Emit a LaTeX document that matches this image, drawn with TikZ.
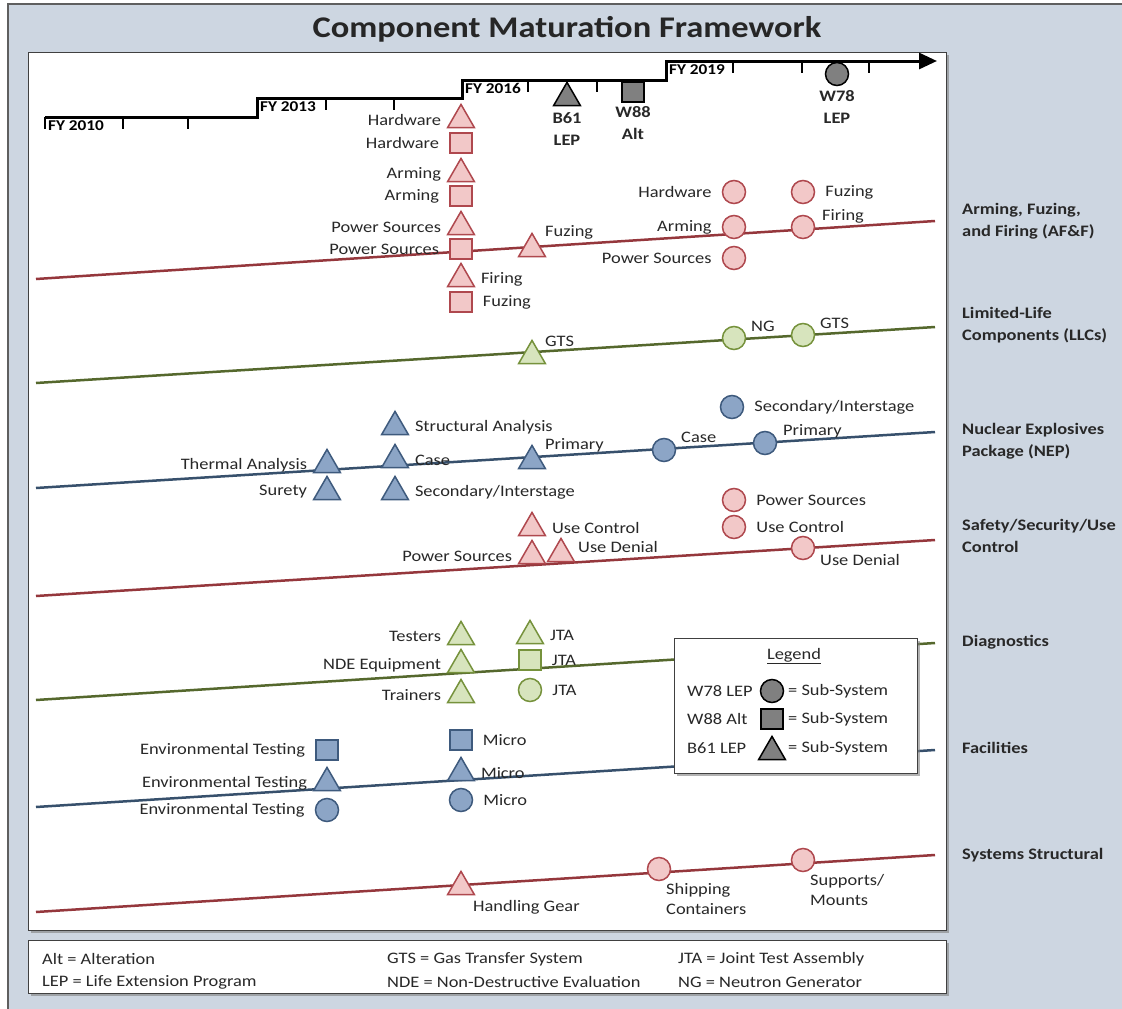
\documentclass[tikz,border=0pt]{standalone}
\usepackage{fontspec}
\setmainfont{Carlito}[FakeStretch=1.15]
\usetikzlibrary{arrows.meta,positioning,shapes.geometric,shadows}
\definecolor{bgblue}{RGB}{205,214,225}
\definecolor{framegray}{RGB}{95,95,95}
\definecolor{txt}{RGB}{40,40,40}
\definecolor{redln}{RGB}{149,55,60}
\definecolor{redbd}{RGB}{175,72,78}
\definecolor{redfill}{RGB}{242,200,200}
\definecolor{grnln}{RGB}{85,104,45}
\definecolor{grnbd}{RGB}{118,146,60}
\definecolor{grnfill}{RGB}{215,228,189}
\definecolor{bluln}{RGB}{55,80,108}
\definecolor{blubd}{RGB}{62,90,125}
\definecolor{blufill}{RGB}{140,165,198}
\definecolor{grayfill}{RGB}{128,128,128}
\newcommand{\lblfont}{\fontsize{16}{20}\selectfont}
\newcommand{\hdfont}{\bfseries\fontsize{16}{22}\selectfont}
\tikzset{
  tri/.style={regular polygon, regular polygon sides=3, minimum size=31pt, inner sep=0pt, line width=1.5pt, yshift=-3.9pt},
  sq/.style={rectangle, minimum width=22pt, minimum height=20pt, inner sep=0pt, line width=1.5pt},
  circ/.style={circle, minimum size=23pt, inner sep=0pt, line width=1.5pt},
  pinkm/.style={draw=redbd, fill=redfill},
  greenm/.style={draw=grnbd, fill=grnfill},
  bluem/.style={draw=blubd, fill=blufill},
  graym/.style={draw=black, fill=grayfill},
  lane/.style={line width=2.5pt},
  lbl/.style={font=\lblfont, text=txt, inner sep=0pt},
  hd/.style={font=\hdfont, text=txt, align=left, anchor=west, inner sep=0pt},
  yr/.style={font=\bfseries\fontsize{15}{18}\selectfont, anchor=north west, inner sep=1pt},
  wlbl/.style={font=\bfseries\fontsize{16}{22}\selectfont, text=txt, align=center, inner sep=0pt},
  every label/.style={font=\lblfont, text=txt, inner sep=2pt},
  box/.style={draw=black!75, line width=1pt, fill=white, drop shadow={shadow xshift=2.5pt, shadow yshift=-2.5pt, opacity=.6}},
}
\begin{document}
\begin{tikzpicture}[x=1pt, y=-1pt, label distance=8pt]
\clip (0,0) rectangle (1122,1009);
\fill[white] (0,0) rectangle (1122,1009);
\draw[line width=1.5pt, draw=framegray, fill=bgblue] (8,4) rectangle (1140,1030);

\node[font=\bfseries\fontsize{30}{34}\selectfont, text=black!85] (title) at (567,29) {Component Maturation Framework};

\draw[box] (28,52) rectangle (946,930);
\draw[box] (28,940) rectangle (946,993);

% timeline
\coordinate (t10) at (45,117);
\coordinate (t13) at (257,117);
\coordinate (t13b) at (257,98);
\coordinate (t16) at (462,98);
\coordinate (t16b) at (462,80);
\coordinate (t19) at (666,80);
\coordinate (t19b) at (666,61);
\coordinate (tend) at (937,61);
\draw[line width=3pt, -{Triangle[length=18pt,width=16pt]}] (t10) -- (t13) -- (t13b) -- (t16) -- (t16b) -- (t19) -- (t19b) -- (tend);
\foreach \x/\y in {45/117, 123/117, 188/117, 326/98, 394/98, 528/80, 597/80, 733/61, 802/61, 869/61}
  \draw[line width=2.5pt] (\x,\y) -- ++(0,12);
\node[yr] (fy10) at (47,119) {FY 2010};
\node[yr] (fy13) at (259,100) {FY 2013};
\node[yr] (fy16) at (464,82) {FY 2016};
\node[yr] (fy19) at (668,63) {FY 2019};

% weapons
\node[tri, graym] (wB61) at (567,94) {};
\node[wlbl, below=6pt of wB61] (wB61l) {B61\\LEP};
\node[sq, graym] (wW88) at (633,92) {};
\node[wlbl, below=4pt of wW88] (wW88l) {W88\\Alt};
\node[circ, graym] (wW78) at (837,74) {};
\node[wlbl, below=4pt of wW78] (wW78l) {W78\\LEP};

% lanes
\coordinate (afL) at (36,279);  \coordinate (afR) at (935,221);
\coordinate (llL) at (36,383);  \coordinate (llR) at (935,327);
\coordinate (neL) at (36,488);  \coordinate (neR) at (935,432);
\coordinate (ssL) at (36,596);  \coordinate (ssR) at (935,540);
\coordinate (dgL) at (36,700);  \coordinate (dgR) at (935,643);
\coordinate (faL) at (36,807);  \coordinate (faR) at (935,750);
\coordinate (syL) at (36,912);  \coordinate (syR) at (935,855);
\draw[lane, redln] (afL) -- (afR);
\draw[lane, grnln] (llL) -- (llR);
\draw[lane, bluln] (neL) -- (neR);
\draw[lane, redln] (ssL) -- (ssR);
\draw[lane, grnln] (dgL) -- (dgR);
\draw[lane, bluln] (faL) -- (faR);
\draw[lane, redln] (syL) -- (syR);

% AF&F
\node[tri, pinkm, label=left:Hardware] (afHwT) at (461,116) {};
\node[sq, pinkm, label=left:Hardware] (afHwS) at (461,143) {};
\node[tri, pinkm, label=left:Arming] (afArT) at (461,170) {};
\node[sq, pinkm, label=left:Arming] (afArS) at (461,196) {};
\node[tri, pinkm, label=left:Power Sources] (afPsT) at (461,223) {};
\node[sq, pinkm, label=left:Power Sources] (afPsS) at (461,249) {};
\node[tri, pinkm, label=right:Firing] (afFiT) at (461,275) {};
\node[sq, pinkm, label=right:Fuzing] (afFuS) at (461,302) {};
\node[tri, pinkm] (afFuT) at (532,245) {};
\node[lbl, anchor=west] (afFuTl) at (545,232) {Fuzing};
\node[circ, pinkm, label=left:Hardware] (afHwC) at (734,192) {};
\node[circ, pinkm, label=left:Arming] (afArC) at (734,227) {};
\node[circ, pinkm, label=left:Power Sources] (afPsC) at (734,258) {};
\node[circ, pinkm, label=right:Fuzing] (afFuC) at (803,192) {};
\node[circ, pinkm] (afFiC) at (803,227) {};
\node[lbl, anchor=west] (afFiCl) at (822,216) {Firing};

% LLCs
\node[tri, greenm] (llGtsT) at (532,352) {};
\node[lbl, anchor=west] (llGtsTl) at (545,341) {GTS};
\node[circ, greenm] (llNgC) at (734,338) {};
\node[lbl, anchor=west] (llNgCl) at (751,326) {NG};
\node[circ, greenm] (llGtsC) at (803,335) {};
\node[lbl, anchor=west] (llGtsCl) at (820,323) {GTS};

% NEP
\node[tri, bluem, label=left:Thermal Analysis] (neThT) at (327,461) {};
\node[tri, bluem, label=left:Surety] (neSuT) at (327,488) {};
\node[tri, bluem, label=right:Structural Analysis] (neStT) at (395,423) {};
\node[tri, bluem, label=right:Case] (neCaT) at (395,456) {};
\node[tri, bluem, label=right:Secondary/Interstage] (neSeT) at (395,488) {};
\node[tri, bluem] (nePrT) at (532,457) {};
\node[lbl, anchor=west] (nePrTl) at (545,445) {Primary};
\node[circ, bluem] (neCaC) at (664,450) {};
\node[lbl, anchor=west] (neCaCl) at (681,437) {Case};
\node[circ, bluem] (nePrC) at (765,443) {};
\node[lbl, anchor=west] (nePrCl) at (783,431) {Primary};
\node[circ, bluem, label=right:Secondary/Interstage] (neSeC) at (732,407) {};

% Safety/Security/Use Control
\node[tri, pinkm, label=right:Use Control] (ssUcT) at (532,524) {};
\node[tri, pinkm, label=left:Power Sources] (ssPsT) at (532,552) {};
\node[tri, pinkm] (ssUdT) at (561,550) {};
\node[lbl, anchor=west] (ssUdTl) at (578,547) {Use Denial};
\node[circ, pinkm, label=right:Power Sources] (ssPsC) at (734,500) {};
\node[circ, pinkm, label=right:Use Control] (ssUcC) at (734,527) {};
\node[circ, pinkm] (ssUdC) at (803,548) {};
\node[lbl, anchor=west] (ssUdCl) at (820,560) {Use Denial};

% Diagnostics
\node[tri, greenm, label=left:Testers] (dgTeT) at (461,633) {};
\node[tri, greenm, label=left:NDE Equipment] (dgNdT) at (461,661) {};
\node[tri, greenm, label=left:Trainers] (dgTrT) at (461,691) {};
\node[tri, greenm, label=right:JTA] (dgJtT) at (530,632) {};
\node[sq, greenm, label=right:JTA] (dgJtS) at (530,660) {};
\node[circ, greenm, label=right:JTA] (dgJtC) at (530,690) {};

% Facilities
\node[sq, bluem, label=left:Environmental Testing] (faEnS) at (327,750) {};
\node[tri, bluem, label=left:Environmental Testing] (faEnT) at (327,779) {};
\node[circ, bluem, label=left:Environmental Testing] (faEnC) at (327,810) {};
\node[sq, bluem, label=right:Micro] (faMiS) at (461,740) {};
\node[tri, bluem, label=right:Micro] (faMiT) at (461,769) {};
\node[circ, bluem, label=right:Micro] (faMiC) at (461,800) {};

% Systems Structural
\node[tri, pinkm] (syHgT) at (461,883) {};
\node[lbl, anchor=west] (syHgTl) at (473,907) {Handling Gear};
\node[circ, pinkm] (syShC) at (659,869) {};
\node[lbl, anchor=north west, align=left] (syShCl) at (666,883) {Shipping\\Containers};
\node[circ, pinkm] (sySuC) at (803,860) {};
\node[lbl, anchor=north west, align=left] (sySuCl) at (810,874) {Supports/\\Mounts};

% legend
\draw[box] (674,638) rectangle (917,773);
\node[lbl] (lgTitle) at (794,656) {\underline{Legend}};
\node[lbl, anchor=west] (lg78) at (687,691) {W78 LEP};
\node[lbl, anchor=west] (lg88) at (687,719) {W88 Alt};
\node[lbl, anchor=west] (lg61) at (687,748) {B61 LEP};
\node[circ, graym] (lgC) at (772,691) {};
\node[sq, graym] (lgS) at (772,719) {};
\node[tri, graym] (lgT) at (772,748) {};
\node[lbl, anchor=west] (lgC2) at (788,691) {= Sub-System};
\node[lbl, anchor=west] (lgS2) at (788,719) {= Sub-System};
\node[lbl, anchor=west] (lgT2) at (788,748) {= Sub-System};

% lane titles
\node[hd] (hdAf) at (962,221) {Arming, Fuzing,\\and Firing (AF\&F)};
\node[hd] (hdLl) at (962,325) {Limited-Life\\Components (LLCs)};
\node[hd] (hdNe) at (962,441) {Nuclear Explosives\\Package (NEP)};
\node[hd] (hdSs) at (962,536) {Safety/Security/Use\\Control};
\node[hd] (hdDg) at (962,642) {Diagnostics};
\node[hd] (hdFa) at (962,748) {Facilities};
\node[hd] (hdSy) at (962,855) {Systems Structural};

% footer
\node[lbl, anchor=west] (fAlt) at (42,959) {Alt = Alteration};
\node[lbl, anchor=west] (fLep) at (42,982) {LEP = Life Extension Program};
\node[lbl, anchor=west] (fGts) at (387,959) {GTS = Gas Transfer System};
\node[lbl, anchor=west] (fNde) at (387,982) {NDE = Non-Destructive Evaluation};
\node[lbl, anchor=west] (fJta) at (678,959) {JTA = Joint Test Assembly};
\node[lbl, anchor=west] (fNg) at (678,982) {NG = Neutron Generator};
\end{tikzpicture}
\end{document}
